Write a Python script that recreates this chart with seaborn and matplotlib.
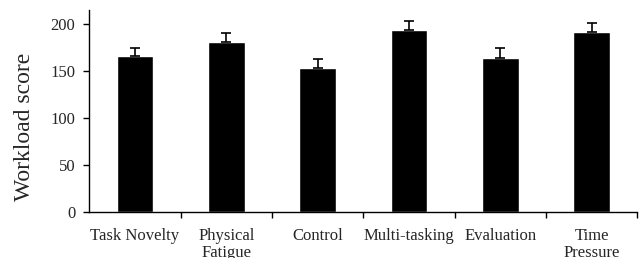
"""Workload score by task factor, bar chart with upper error bars."""

import matplotlib
matplotlib.use("Agg")
import matplotlib.pyplot as plt
import numpy as np
import pandas as pd
import seaborn as sns

categories = ["Task Novelty", "Physical\nFatigue", "Control", "Multi-tasking", "Evaluation", "Time\nPressure"]
scores = [166, 181.5, 153, 194.5, 164, 192]
errors = [9, 9, 9.5, 9, 11, 9]
y_ticks = [0, 50, 100, 150, 200]

df = pd.DataFrame({"factor": categories, "score": scores, "err": errors})

sns.set_theme(style="white")
plt.rcParams["font.family"] = ["Liberation Serif", "DejaVu Serif"]

fig = plt.figure(figsize=(6.43, 2.58), dpi=100)
ax = fig.add_axes([0.139, 0.18, 0.852, 0.78])

sns.barplot(data=df, x="factor", y="score", color="black", width=0.4,
            saturation=1, ax=ax, errorbar=None)
pos = np.arange(len(df))
ax.errorbar(pos, df["score"], yerr=[np.zeros(len(df)), df["err"]], fmt="none",
            ecolor="black", elinewidth=1.2, capsize=3.5, capthick=1.2)

ax.set_xlim(-0.5, len(df) - 0.5)
ax.set_ylim(0, 215)
ax.set_yticks(y_ticks)
ax.set_xlabel("")
ax.set_ylabel("Workload score", fontsize=17)
ax.yaxis.set_label_coords(-0.1, 0.42)

ax.set_xticks(pos)
ax.set_xticklabels(df["factor"], fontsize=12, linespacing=1.1, va="top")
ax.set_xticks(np.arange(len(df)) + 0.5, minor=True)
ax.tick_params(axis="x", which="major", length=0, pad=12)
ax.tick_params(axis="x", which="minor", length=4, width=1, direction="out", color="black", bottom=True)
ax.tick_params(axis="y", length=4, width=1, direction="out", color="black", left=True, labelsize=12, pad=6)

for side in ["top", "right"]:
    ax.spines[side].set_visible(False)
for side in ["left", "bottom"]:
    ax.spines[side].set_color("black")
    ax.spines[side].set_linewidth(1)

fig.savefig("out.png", dpi=100)
